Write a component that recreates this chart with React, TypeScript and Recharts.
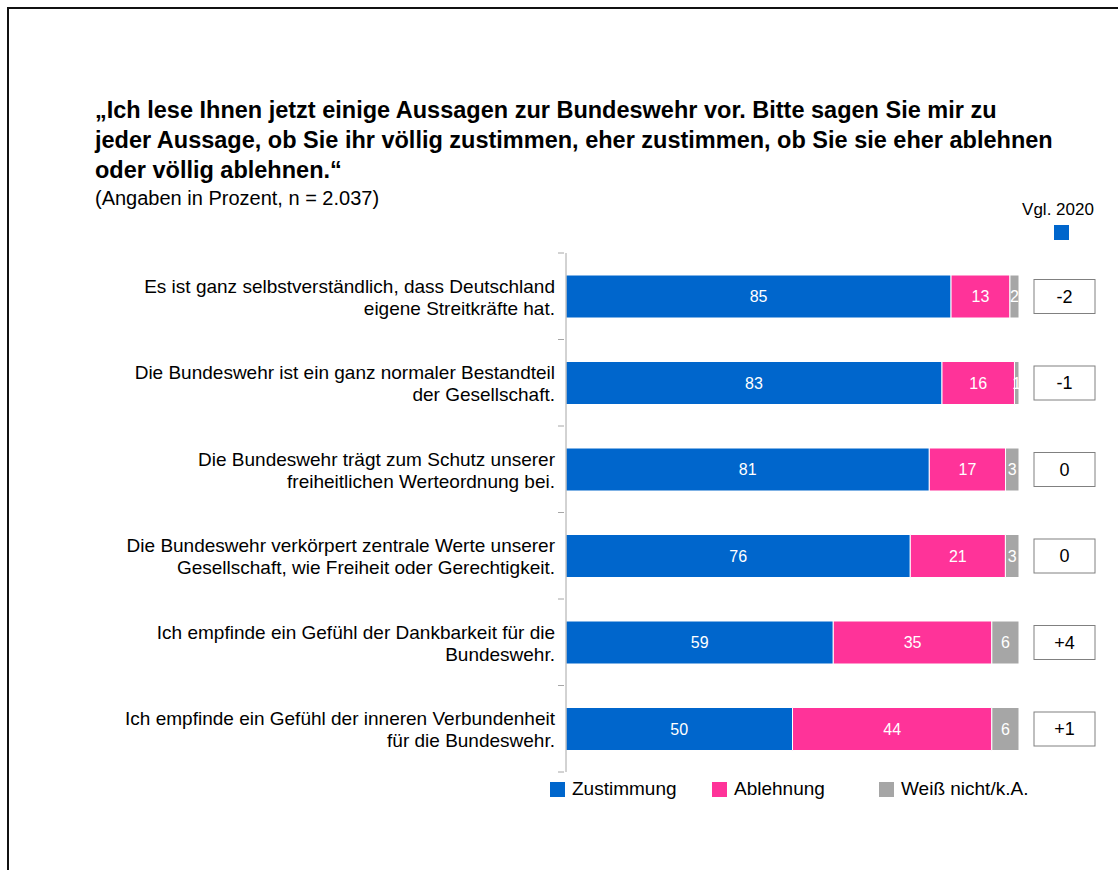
import React from "react";
import { BarChart, Bar, XAxis, YAxis, LabelList, Legend } from "recharts";

const categories: string[][] = [
  ["Es ist ganz selbstverständlich, dass Deutschland", "eigene Streitkräfte hat."],
  ["Die Bundeswehr ist ein ganz normaler Bestandteil", "der Gesellschaft."],
  ["Die Bundeswehr trägt zum Schutz unserer", "freiheitlichen Werteordnung bei."],
  ["Die Bundeswehr verkörpert zentrale Werte unserer", "Gesellschaft, wie Freiheit oder Gerechtigkeit."],
  ["Ich empfinde ein Gefühl der Dankbarkeit für die", "Bundeswehr."],
  ["Ich empfinde ein Gefühl der inneren Verbundenheit", "für die Bundeswehr."],
];
const zustimmung = [85, 83, 81, 76, 59, 50];
const ablehnung = [13, 16, 17, 21, 35, 44];
const weissNicht = [2, 1, 3, 3, 6, 6];
const vgl2020 = ["-2", "-1", "0", "0", "+4", "+1"];

const seriesNames = ["Zustimmung", "Ablehnung", "Weiß nicht/k.A."];
const colors = ["#0066CC", "#FF3399", "#A6A6A6"];

const data = categories.map((c, i) => ({
  id: String(i),
  zust: zustimmung[i],
  abl: ablehnung[i],
  wn: weissNicht[i],
  vgl: vgl2020[i],
}));

const FONT = "'Liberation Sans', Arial, sans-serif";
const TOP = 253;
const PLOT_BOTTOM = 772;
const H = 870;
const LEGEND_H = 24;
const BAND = (PLOT_BOTTOM - TOP) / categories.length;

const CatTick = (props: any) => {
  const { x, y, payload, index } = props;
  const lines = categories[Number(payload.value)];
  const axisX = x + 6;
  return (
    <g>
      <line x1={axisX - 6} x2={axisX} y1={y - BAND / 2} y2={y - BAND / 2} stroke="#A6A6A6" />
      {index === categories.length - 1 && (
        <line x1={axisX - 6} x2={axisX} y1={y + BAND / 2} y2={y + BAND / 2} stroke="#A6A6A6" />
      )}
      {lines.map((l, k) => (
        <text
          key={k}
          x={axisX - 9}
          y={y + (k - (lines.length - 1) / 2) * 22 + 1}
          textAnchor="end"
          dominantBaseline="central"
          fontSize={19}
          fontFamily={FONT}
          fill="#000"
        >
          {l}
        </text>
      ))}
    </g>
  );
};

const VglBox = (props: any) => {
  const { x, y, width, height, index } = props;
  const bx = x + width + 15;
  const cy = y + height / 2;
  return (
    <g>
      <rect x={bx} y={cy - 17} width={61} height={34} fill="#fff" stroke="#808080" strokeWidth={1} />
      <text x={bx + 30.5} y={cy} textAnchor="middle" dominantBaseline="central" fontSize={18} fontFamily={FONT} fill="#000">
        {data[index].vgl}
      </text>
    </g>
  );
};

const LegendContent = () => {
  const widths = [162, 167, 190];
  return (
    <div style={{ display: "flex", fontFamily: FONT, fontSize: 19, color: "#000", whiteSpace: "nowrap" }}>
      {seriesNames.map((n, i) => (
        <div key={n} style={{ width: widths[i], display: "flex", alignItems: "center" }}>
          <span style={{ display: "inline-block", width: 15, height: 15, background: colors[i], marginRight: 7, flex: "none" }} />
          <span>{n}</span>
        </div>
      ))}
    </div>
  );
};

export default function App() {
  return (
    <div style={{ position: "absolute", left: 0, top: 0, width: 1118, height: 870, background: "#fff", overflow: "hidden" }}>
      <div style={{ position: "absolute", left: 7, top: 7, width: 1200, height: 900, borderTop: "2px solid #111", borderLeft: "2px solid #111" }} />
      <div style={{ position: "absolute", left: 95, top: 95, fontFamily: FONT, fontSize: 23.5, fontWeight: "bold", lineHeight: "30px", color: "#000", whiteSpace: "nowrap" }}>
        <div>„Ich lese Ihnen jetzt einige Aussagen zur Bundeswehr vor. Bitte sagen Sie mir zu</div>
        <div>jeder Aussage, ob Sie ihr völlig zustimmen, eher zustimmen, ob Sie sie eher ablehnen</div>
        <div>oder völlig ablehnen.“</div>
      </div>
      <div style={{ position: "absolute", left: 95, top: 186, fontFamily: FONT, fontSize: 20, lineHeight: "24px", color: "#000", whiteSpace: "nowrap" }}>
        (Angaben in Prozent, n = 2.037)
      </div>
      <div style={{ position: "absolute", left: 1008, top: 199, width: 100, textAlign: "center", fontFamily: FONT, fontSize: 17, lineHeight: "22px", color: "#000", whiteSpace: "nowrap" }}>
        Vgl. 2020
      </div>
      <div style={{ position: "absolute", left: 1054, top: 225, width: 15, height: 15, background: "#0066CC" }} />
      <div style={{ position: "absolute", left: 0, top: 0 }}>
        <BarChart
          width={1118}
          height={H}
          data={data}
          layout="vertical"
          stackOffset="expand"
          barSize={43}
          margin={{ top: TOP, right: 99, bottom: H - PLOT_BOTTOM - LEGEND_H, left: 0 }}
        >
          <XAxis type="number" hide />
          <YAxis
            type="category"
            dataKey="id"
            width={566}
            axisLine={{ stroke: "#A6A6A6" }}
            tickLine={false}
            tick={<CatTick />}
            interval={0}
          />
          <Legend
            verticalAlign="bottom"
            content={<LegendContent />}
            wrapperStyle={{ position: "absolute", left: 550, top: 778, width: 540, height: LEGEND_H, bottom: "auto" }}
          />
          <Bar dataKey="zust" name={seriesNames[0]} stackId="a" fill={colors[0]} stroke="#fff" strokeWidth={1} isAnimationActive={false}>
            <LabelList dataKey="zust" position="center" fill="#fff" fontSize={16} fontFamily={FONT} />
          </Bar>
          <Bar dataKey="abl" name={seriesNames[1]} stackId="a" fill={colors[1]} stroke="#fff" strokeWidth={1} isAnimationActive={false}>
            <LabelList dataKey="abl" position="center" fill="#fff" fontSize={16} fontFamily={FONT} />
          </Bar>
          <Bar dataKey="wn" name={seriesNames[2]} stackId="a" fill={colors[2]} stroke="#fff" strokeWidth={1} isAnimationActive={false}>
            <LabelList dataKey="wn" position="center" fill="#fff" fontSize={16} fontFamily={FONT} />
            <LabelList dataKey="vgl" content={<VglBox />} />
          </Bar>
        </BarChart>
      </div>
    </div>
  );
}
